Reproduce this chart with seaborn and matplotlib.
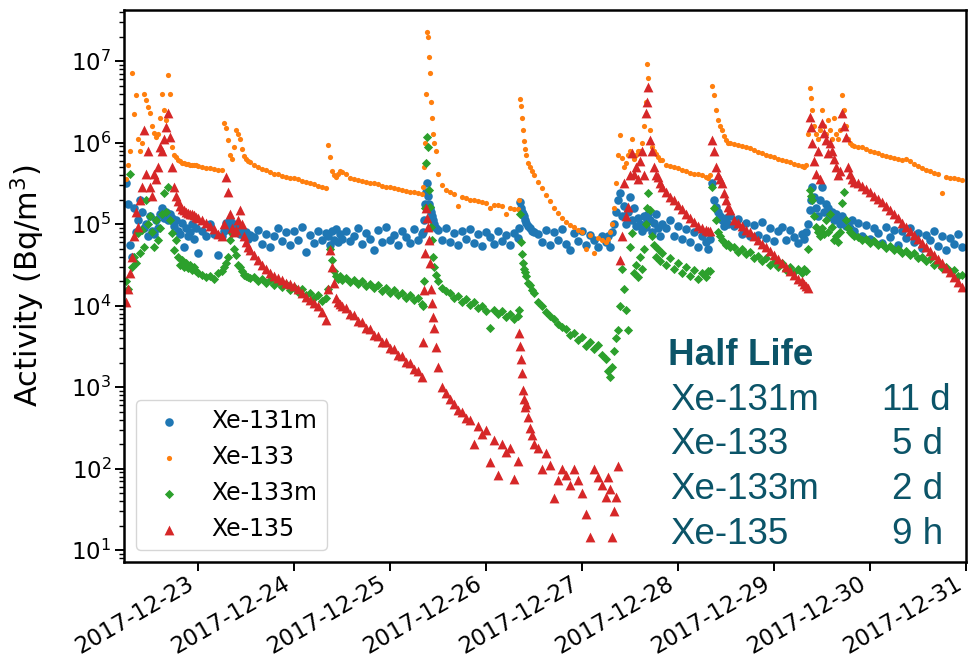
import numpy as np
import pandas as pd
import matplotlib
matplotlib.use("Agg")
import matplotlib.pyplot as plt
import matplotlib.dates as mdates
import seaborn as sns

# measurement times, hours after 2017-12-22 00:00
hours = [
    6, 6.5, 7, 7.5, 8, 8.5, 9, 9.5, 10, 10.5, 11, 11.5, 12, 12.5, 13, 13.5, 14, 14.5, 15, 15.5,
    16, 16.5, 17, 17.5, 18, 18.5, 19, 19.5, 20, 20.5, 21, 21.5, 22, 22.5, 23, 23.5, 24,
    25, 26, 27, 28, 29,
    30, 30.5, 31, 31.5, 32, 32.5, 33, 33.5, 34, 34.5, 35, 35.5, 36, 36.5, 37,
    38, 39, 40, 41, 42, 43, 44, 45, 46, 47, 48, 49, 50, 51, 52, 53, 54, 55, 56,
    56.5, 57, 57.5, 58, 58.5, 59, 59.5, 60,
    61, 62, 63, 64, 65, 66, 67, 68, 69, 70, 71, 72, 73, 74, 75, 76, 77, 78, 79, 80,
    80.25, 80.5, 80.75, 81, 81.25, 81.5, 81.75, 82, 82.25, 82.5, 82.75, 83, 83.5,
    84, 85, 86, 87, 88, 89, 90, 91, 92, 93, 94, 95, 96, 97, 98, 99, 100, 101, 102, 103, 104,
    104.25, 104.5, 104.75, 105, 105.25, 105.5, 105.75, 106, 106.5, 107, 107.5, 108,
    109, 110, 111, 112, 113, 114, 115, 116, 117, 118, 119, 120, 121, 122, 123, 124, 125,
    126, 126.5, 127, 127.5, 128, 128.5, 129, 129.5, 130, 130.5, 131, 131.5, 132, 132.5, 133,
    133.5, 134, 134.5, 135, 135.5, 136, 136.25, 136.5, 137, 137.5, 138, 138.5, 139, 139.5, 140,
    141, 142, 143, 144, 145, 146, 147, 148, 149, 150,
    151, 151.5, 152, 152.5, 153, 153.5, 154, 154.5, 155, 155.5, 156, 156.5, 157,
    158, 159, 160, 161, 162, 163, 164, 165, 166, 167, 168, 169, 170, 171, 172, 173, 174,
    175, 175.5, 176, 176.5, 177, 177.25, 177.5, 178, 178.5, 179, 179.5, 180, 180.5, 181,
    181.5, 182, 182.5, 183, 183.5, 184, 184.5, 185, 185.5, 186, 186.5, 187, 187.5, 188,
    189, 190, 191, 192, 193, 194, 195, 196, 197, 198, 199, 200, 201, 202, 203, 204, 205,
    206, 207, 208, 209, 210, 211, 212, 213, 214, 215,
]

# log10 of activity (Bq/m3)
xe131m_log = [
    5.5, 5.25, 4.75, 4.6, 5.2, 4.9, 5.05, 5.3, 5.15, 4.95, 5.0, 4.85, 5.1, 4.92, 4.88, 5.05, 4.95, 5.12, 5.2, 5.08,
    5.15, 5.05, 5.12, 5.08, 4.98, 5.05, 4.92, 4.88, 5.02, 4.72, 4.95, 4.86, 4.9, 5.0, 4.82, 4.95, 4.64,
    4.92, 4.85, 5.0, 4.88, 4.62,
    4.86, 4.92, 5.02, 4.95, 5.05, 4.9, 5.0, 4.92, 4.96, 4.88, 4.93, 4.85, 4.9, 4.82, 4.87,
    4.84, 4.93, 4.76, 4.88, 4.72, 4.86, 4.95, 4.79, 4.90, 4.74, 4.92, 4.81, 4.96, 4.66, 4.87, 4.77, 4.91, 4.80, 4.89,
    4.86, 4.75, 4.92, 4.80, 4.94, 4.78, 4.88, 4.82,
    4.91, 4.79, 4.86, 4.95, 4.76, 4.89, 4.82, 4.68, 4.93, 4.78, 4.96, 4.81, 4.87, 4.74, 4.92, 4.84, 4.77, 4.94, 4.80, 4.88,
    4.9, 5.05, 5.25, 5.4, 5.5, 5.35, 5.25, 5.2, 5.15, 5.1, 5.05, 5.0, 4.95,
    4.93, 4.81, 4.95, 4.78, 4.89, 4.75, 4.91, 4.82, 4.94, 4.77, 4.88, 4.73, 4.90, 4.84, 4.76, 4.92, 4.79, 4.87, 4.74, 4.89, 4.83,
    4.95, 5.27, 5.2, 5.15, 5.12, 5.1, 5.05, 5.02, 4.98, 4.95, 4.92, 4.9,
    4.88, 4.78, 4.93, 4.75, 4.90, 4.80, 4.94, 4.76, 4.68, 4.89, 4.79, 4.92, 4.74, 4.87, 4.81, 4.72, 4.86,
    4.78, 4.86, 4.72, 4.9, 5.0, 5.15, 5.3, 5.38, 5.1, 5.22, 5.0, 5.15, 5.33, 5.05, 5.2,
    4.98, 5.08, 5.0, 4.92, 5.1, 4.97, 5.05, 5.13, 5.05, 4.9, 5.02, 5.13, 4.95, 4.85, 5.0,
    4.95, 5.05, 4.86, 4.98, 4.82, 4.94, 4.78, 4.9, 4.72, 4.86,
    4.78, 4.7, 4.82, 5.5, 5.3, 5.21, 5.15, 5.1, 5.05, 4.98, 5.08, 5.0, 5.1,
    4.98, 5.06, 4.88, 5.02, 4.85, 4.99, 4.87, 5.03, 4.83, 4.95, 4.79, 4.92, 4.97, 4.81, 4.93, 4.84, 4.77,
    4.88, 4.82, 4.9, 5.0, 5.17, 5.3, 5.45, 5.33, 5.2, 5.1, 5.3, 5.45, 5.15, 5.25,
    5.2, 5.1, 5.15, 5.05, 5.12, 5.09, 5.0, 5.1, 5.05, 4.98, 5.02, 4.95, 5.05, 4.92,
    5.02, 4.86, 4.99, 4.82, 4.95, 4.89, 4.77, 4.97, 4.84, 4.93, 4.75, 4.91, 4.83, 4.95, 4.78, 4.89, 4.71,
    4.87, 4.8, 4.92, 4.73, 4.85, 4.68, 4.83, 4.76, 4.88, 4.72,
]

xe133_log = [
    5.55, 5.72, 5.9, 6.85, 6.35, 6.58, 6.05, 5.9, 6.0, 6.6, 6.52, 6.44, 6.36, 6.2, 6.12, 6.07, 6.1, 6.3, 6.6, 6.4,
    6.28, 6.83, 6.6, 5.95, 5.85, 5.82, 5.79, 5.77, 5.75, 5.75, 5.74, 5.74, 5.73, 5.73, 5.72, 5.72, 5.71,
    5.70, 5.69, 5.69, 5.68, 5.67,
    5.66, 6.24, 6.18, 6.03, 5.85, 5.8, 5.95, 6.15, 6.1, 6.05, 5.92, 5.84, 5.8, 5.78, 5.76,
    5.73, 5.70, 5.68, 5.66, 5.64, 5.62, 5.61, 5.59, 5.58, 5.57, 5.56, 5.55, 5.53, 5.52, 5.51, 5.49, 5.47, 5.45, 5.44,
    5.97, 5.82, 5.65, 5.6, 5.58, 5.62, 5.65, 5.64,
    5.62, 5.57, 5.55, 5.54, 5.53, 5.52, 5.51, 5.50, 5.49, 5.47, 5.46, 5.45, 5.44, 5.43, 5.42, 5.41, 5.40, 5.39, 5.38, 5.37,
    5.45, 5.7, 6.0, 6.6, 7.36, 7.3, 7.05, 6.85, 6.5, 6.3, 6.1, 6.0, 5.9,
    5.62, 5.48, 5.42, 5.39, 5.37, 5.22, 5.33, 5.32, 5.30, 5.29, 5.28, 5.27, 5.26, 5.2, 5.24, 5.23, 5.22, 5.13, 5.20, 5.19, 5.18,
    5.3, 6.54, 6.45, 6.3, 6.15, 6.02, 5.92, 5.85, 5.75, 5.7, 5.65, 5.6,
    5.52, 5.44, 5.36, 5.28, 5.2, 5.14, 5.08, 5.03, 4.99, 4.96, 4.93, 4.9, 4.7, 4.87, 4.65, 4.83, 4.8,
    4.78, 4.82, 4.9, 5.0, 5.2, 5.5, 5.85, 6.09, 5.81, 5.7, 5.75, 5.85, 5.9, 6.05, 5.8,
    5.85, 5.9, 5.9, 6.0, 6.2, 6.5, 6.97, 6.79, 6.15, 5.94, 5.9, 5.86, 5.82, 5.79, 5.79,
    5.73, 5.71, 5.70, 5.69, 5.67, 5.65, 5.63, 5.62, 5.61, 5.60,
    5.58, 5.57, 5.6, 6.69, 6.58, 6.4, 6.28, 6.2, 6.15, 6.08, 6.03, 6.0, 5.99,
    5.98, 5.97, 5.96, 5.94, 5.93, 5.91, 5.89, 5.87, 5.85, 5.83, 5.82, 5.80, 5.79, 5.77, 5.76, 5.74, 5.73,
    5.71, 5.70, 5.72, 6.1, 6.67, 6.55, 6.4, 6.2, 6.1, 6.05, 6.15, 6.4, 6.2, 6.1,
    6.28, 6.15, 6.05, 6.3, 6.1, 6.05, 6.15, 6.58, 6.4, 6.2, 6.05, 5.99, 5.97, 5.96,
    5.95, 5.94, 5.92, 5.90, 5.88, 5.87, 5.85, 5.84, 5.82, 5.81, 5.80, 5.79, 5.80, 5.77, 5.74, 5.71, 5.69,
    5.67, 5.65, 5.63, 5.62, 5.38, 5.58, 5.57, 5.56, 5.55, 5.54,
]

xe133m_log = [
    4.3, 4.2, 5.62, 4.47, 4.6, 4.52, 4.89, 4.65, 4.93, 4.72, 5.3, 5.0, 5.1, 4.9, 4.72, 5.05, 4.8, 4.95, 5.13, 5.38,
    5.15, 5.45, 5.05, 4.89, 4.68, 4.8, 4.6, 4.5, 4.56, 4.48, 4.52, 4.46, 4.5, 4.44, 4.47, 4.42, 4.4,
    4.38, 4.35, 4.37, 4.33, 4.4,
    4.43, 4.48, 4.52, 4.6, 4.8, 4.89, 4.7, 4.62, 4.5, 4.47, 4.42, 4.38, 4.36, 4.35, 4.34,
    4.35, 4.30, 4.33, 4.28, 4.31, 4.25, 4.29, 4.23, 4.26, 4.19, 4.23, 4.17, 4.2, 4.13, 4.16, 4.1, 4.13, 4.06, 4.1,
    4.2, 4.7, 4.56, 4.42, 4.36, 4.33, 4.37, 4.32,
    4.34, 4.29, 4.31, 4.27, 4.3, 4.24, 4.27, 4.22, 4.25, 4.18, 4.22, 4.16, 4.19, 4.13, 4.16, 4.1, 4.13, 4.07, 4.09, 4.02,
    4.0, 4.3, 5.2, 5.75, 6.07, 5.95, 5.42, 5.21, 4.96, 4.8, 4.6, 4.47, 4.38,
    4.3, 4.22, 4.18, 4.15, 4.1, 4.12, 4.05, 4.08, 4.01, 4.04, 3.97, 4.0, 3.94, 3.72, 3.95, 3.9, 3.93, 3.86, 3.9, 3.84, 3.87,
    3.95, 5.13, 4.78, 4.63, 4.52, 4.45, 4.41, 4.36, 4.28, 4.25, 4.19, 4.15,
    4.05, 4.0, 3.92, 3.87, 3.84, 3.78, 3.74, 3.71, 3.64, 3.67, 3.58, 3.62, 3.5, 3.55, 3.47, 3.52, 3.4,
    3.35, 3.2, 3.12, 3.25, 3.45, 3.6, 3.7, 4.0, 4.45, 4.2, 3.95, 3.7, 4.72, 4.89, 4.4,
    4.5, 4.35, 4.6, 4.45, 4.7, 5.0, 5.2, 5.38, 5.17, 4.85, 4.75, 4.6, 4.7, 4.55, 4.65,
    4.5, 4.58, 4.45, 4.52, 4.4, 4.48, 4.36, 4.44, 4.33, 4.4,
    4.35, 4.42, 4.43, 5.45, 5.2, 5.05, 4.9, 4.85, 4.8, 4.78, 4.75, 4.76, 4.72,
    4.72, 4.66, 4.7, 4.63, 4.66, 4.58, 4.61, 4.55, 4.58, 4.5, 4.54, 4.47, 4.52, 4.44, 4.48, 4.41, 4.45,
    4.4, 4.45, 4.42, 4.7, 5.42, 5.35, 5.3, 5.1, 4.96, 4.9, 4.85, 4.95, 4.88, 5.05,
    4.9, 5.13, 4.96, 4.8, 4.85, 4.78, 4.9, 5.26, 5.4, 5.05, 4.95, 4.9, 4.88, 4.85,
    4.84, 4.8, 4.82, 4.77, 4.79, 4.74, 4.76, 4.71, 4.73, 4.68, 4.7, 4.65, 4.67, 4.62, 4.64, 4.58, 4.6,
    4.55, 4.57, 4.5, 4.53, 4.46, 4.48, 4.42, 4.44, 4.36, 4.38,
]

xe135_log = [
    4.05, 4.2, 4.4, 4.6, 4.85, 5.15, 4.96, 5.3, 5.45, 6.15, 5.62, 5.9, 5.45, 5.35, 5.62, 5.55, 5.7, 5.95, 5.9, 6.05,
    6.19, 6.36, 6.07, 5.7, 5.45, 5.35, 5.28, 5.22, 5.19, 5.17, 5.15, 5.14, 5.13, 5.12, 5.11, 5.09, 5.07,
    5.05, 5.02, 4.98, 4.94, 4.88,
    4.85, 5.0, 5.58, 5.4, 5.13, 4.95, 4.9, 4.93, 5.05, 5.17, 5.0, 4.85, 4.78, 4.72, 4.68,
    4.62, 4.56, 4.5, 4.45, 4.4, 4.37, 4.34, 4.31, 4.28, 4.26, 4.24, 4.2, 4.16, 4.11, 4.07, 4.03, 3.99, 3.92, 3.83,
    4.2, 4.68, 4.47, 4.28, 4.1, 4.05, 4.02, 3.99,
    3.97, 3.90, 3.88, 3.81, 3.80, 3.72, 3.71, 3.64, 3.63, 3.56, 3.55, 3.48, 3.47, 3.39, 3.38, 3.31, 3.30, 3.22, 3.20, 3.12,
    3.55, 4.19, 4.64, 5.2, 5.08, 4.96, 4.8, 4.52, 4.2, 4.03, 3.86, 3.72, 3.49,
    3.25, 3.0, 2.93, 2.85, 2.8, 2.72, 2.7, 2.62, 2.6, 2.3, 2.52, 2.42, 2.47, 2.08, 2.35, 1.92, 2.3, 2.2, 2.25, 1.88, 2.1,
    3.67, 3.5, 3.35, 3.17, 2.96, 2.85, 2.76, 2.8, 2.63, 2.5, 2.41, 2.3,
    2.26, 2.0, 2.19, 2.05, 1.64, 1.86, 2.0, 1.92, 1.8, 2.0, 1.86, 1.7, 1.45, 1.16, 2.0, 1.9, 1.8,
    1.65, 1.9, 1.75, 1.16, 1.48, 1.65, 2.03, 4.56, 4.85, 5.5, 5.1, 5.21, 5.6, 5.87, 5.62,
    5.7, 5.55, 5.78, 5.9, 5.6, 6.36, 6.5, 6.68, 6.03, 5.9, 5.7, 5.6, 5.58, 5.5, 5.45,
    5.4, 5.33, 5.29, 5.23, 5.18, 5.12, 5.08, 5.03, 4.98, 4.95,
    4.93, 4.91, 4.92, 6.03, 5.9, 5.7, 5.6, 5.55, 5.5, 5.38, 5.3, 5.21, 5.17,
    5.05, 5.02, 4.98, 4.93, 4.9, 4.85, 4.81, 4.76, 4.72, 4.67, 4.62, 4.57, 4.52, 4.48, 4.43, 4.38, 4.33,
    4.3, 4.27, 4.24, 4.22, 6.31, 6.19, 6.0, 5.78, 5.62, 5.9, 5.55, 6.24, 6.12, 6.03,
    5.87, 6.0, 5.9, 5.8, 5.7, 5.6, 5.65, 6.36, 6.2, 6.07, 5.7, 5.62, 5.55, 5.52,
    5.5, 5.47, 5.43, 5.39, 5.35, 5.31, 5.27, 5.22, 5.17, 5.12, 5.07, 5.02, 4.97, 4.92, 4.87, 4.82, 4.77,
    4.72, 4.67, 4.62, 4.57, 4.52, 4.46, 4.41, 4.35, 4.29, 4.23,
]

labels = ["Xe-131m", "Xe-133", "Xe-133m", "Xe-135"]
half_life_names = ["Xe-131m", "Xe-133", "Xe-133m", "Xe-135"]
half_life_values = ["11 d", "5 d", "2 d", "9 h"]

for name, arr in zip(labels, [xe131m_log, xe133_log, xe133m_log, xe135_log]):
    assert len(arr) == len(hours), f"{name}: {len(arr)} vs {len(hours)}"

sns.set_style("ticks")
plt.rcParams["font.family"] = ["DejaVu Sans"]
plt.rcParams["mathtext.fontset"] = "dejavusans"
for key in ["text.color", "axes.labelcolor", "xtick.color", "ytick.color", "axes.edgecolor"]:
    plt.rcParams[key] = "black"

start = pd.Timestamp("2017-12-22 00:00")
times = start + pd.to_timedelta(hours, unit="h")

styles = [
    ("#1f77b4", "o", 38),
    ("#ff7f0e", "o", 14),
    ("#2ca02c", "D", 22),
    ("#d62728", "^", 50),
]

fig = plt.figure(figsize=(9.79, 6.67), dpi=100)
ax = fig.add_axes([124 / 979, 1 - 562 / 667, (966 - 124) / 979, (562 - 10) / 667])

for name, arr, (color, marker, size) in zip(labels, [xe131m_log, xe133_log, xe133m_log, xe135_log], styles):
    df = pd.DataFrame({"time": times, "activity": np.power(10.0, np.array(arr))})
    sns.scatterplot(data=df, x="time", y="activity", color=color, marker=marker,
                    s=size, linewidth=0, ax=ax, label=name, legend=False)

ax.set_yscale("log")
ax.set_ylim(7.18, 4.23e7)
ax.set_xlim(start + pd.Timedelta(hours=5.43), start + pd.Timedelta(hours=216))
ax.xaxis.set_major_locator(mdates.DayLocator())
ax.xaxis.set_major_formatter(mdates.DateFormatter("%Y-%m-%d"))
ax.set_xlabel("")
ax.set_ylabel("Activity (Bq/m$^3$)", fontsize=22)
ax.yaxis.set_label_coords(-0.092, 0.5)

ax.tick_params(axis="y", which="major", labelsize=16.5, length=6.5, width=1.4, pad=2.5)
ax.tick_params(axis="x", which="major", labelsize=16.5, length=6.5, width=1.4, pad=0.5)
ax.tick_params(axis="y", which="minor", length=3.5, width=1.0)
for lab in ax.get_xticklabels():
    lab.set_rotation(30)
    lab.set_ha("right")
for sp in ax.spines.values():
    sp.set_linewidth(1.8)
    sp.set_visible(True)
    sp.set_color("black")

handles, hlabels = ax.get_legend_handles_labels()
leg = ax.legend(handles, hlabels, loc="lower left", fontsize=17, frameon=True,
                fancybox=True, framealpha=0.8, edgecolor="0.8", scatterpoints=1)

teal = "#0b5468"
fig.text(668 / 979, 1 - 365 / 667, "Half Life", fontsize=26.5, fontweight="bold",
         color=teal, family="Liberation Sans", va="baseline", ha="left")
name_y = [410, 454, 499, 544]
val_x = [882, 892, 892, 892]
for nm, val, yy, vx in zip(half_life_names, half_life_values, name_y, val_x):
    fig.text(670 / 979, 1 - yy / 667, nm, fontsize=26.5, color=teal,
             family="Liberation Sans", va="baseline", ha="left")
    fig.text(vx / 979, 1 - yy / 667, val, fontsize=26.5, color=teal,
             family="Liberation Sans", va="baseline", ha="left")

fig.savefig("out.png", dpi=100)
